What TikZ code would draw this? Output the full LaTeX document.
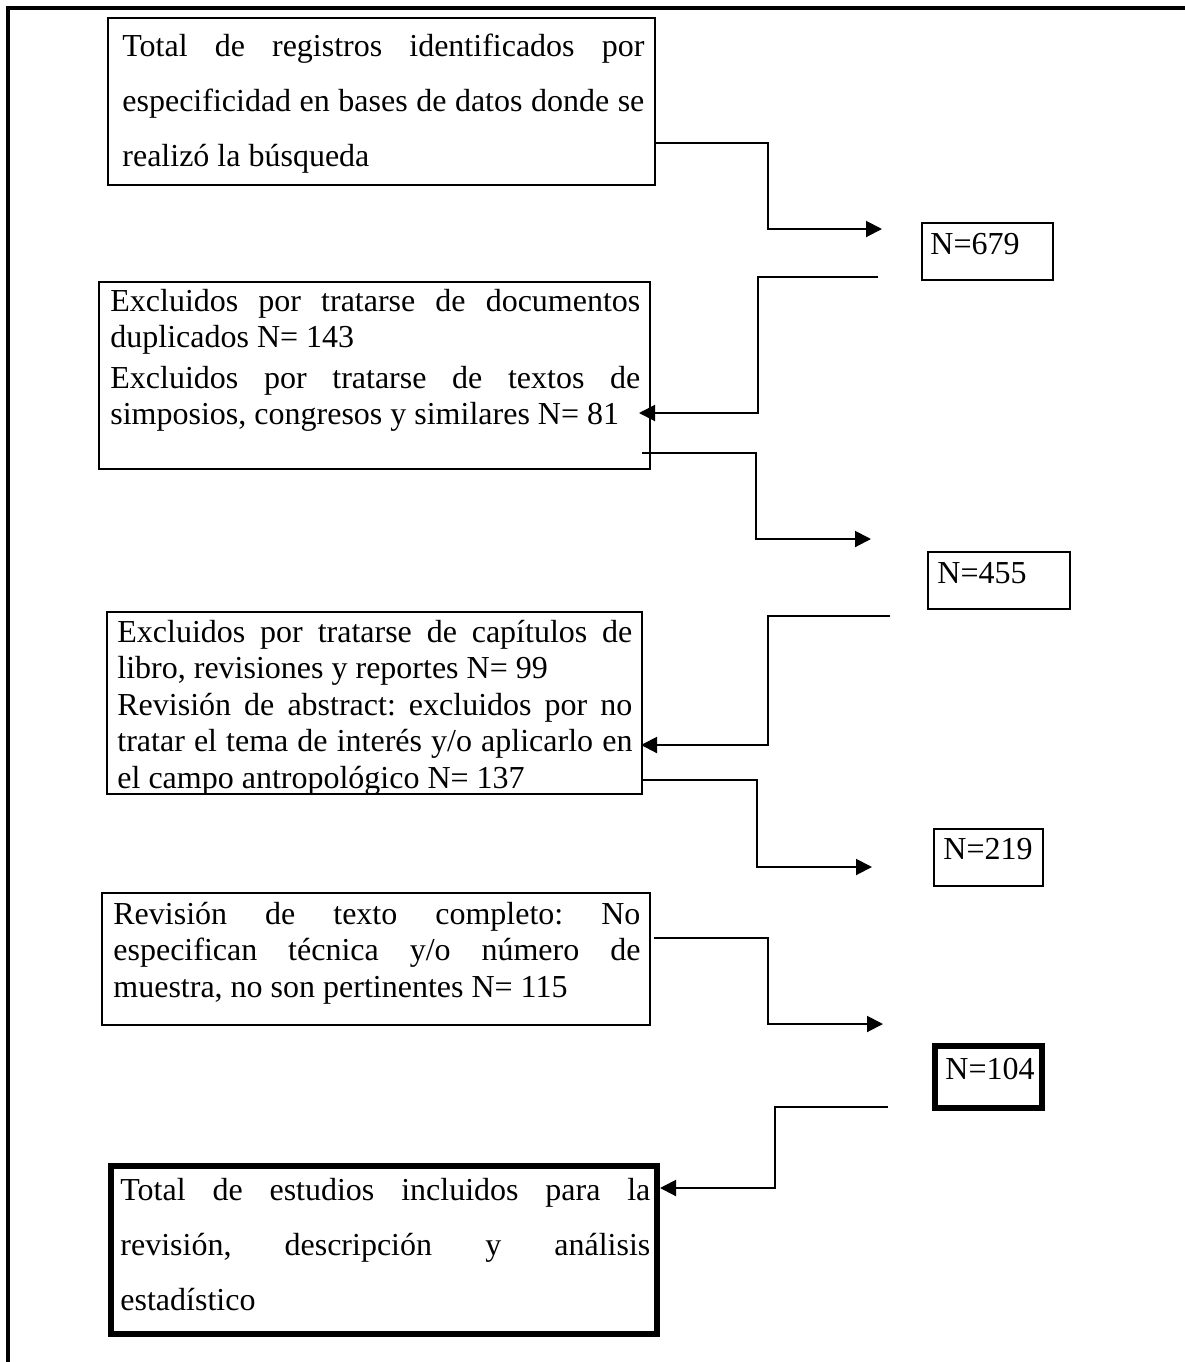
\documentclass[tikz,border=0pt]{standalone}
\usepackage{fontspec}
\setmainfont{Liberation Serif}
\usetikzlibrary{arrows.meta,fit}
\frenchspacing
\newcommand{\jline}[2]{{\frenchspacing\spaceskip=0pt\xspaceskip=0pt\makebox[#1][s]{#2}}}
\newcommand{\lline}[2]{{\frenchspacing\spaceskip=0pt\xspaceskip=0pt\makebox[#1][l]{#2}}}
\begin{document}
\begin{tikzpicture}[x=0.5pt,y=-0.5pt,
  box/.style={draw, line width=1pt, inner sep=0pt},
  thickbox/.style={draw, line width=3pt, inner sep=0pt},
  txt/.style={inner sep=0pt, anchor=base west, align=left, font=\fontsize{16pt}{18.25pt}\selectfont},
  widetxt/.style={txt, font=\fontsize{16pt}{27.5pt}\selectfont},
  ntxt/.style={inner sep=0pt, anchor=base west, font=\fontsize{16pt}{18pt}\selectfont},
  arr/.style={line width=1pt, -{Triangle[length=8pt,width=8pt]}}]
\useasboundingbox (0,0) rectangle (1185,1362);
\fill[white] (0,0) rectangle (1185,1362);
% outer frame
\draw[line width=2pt] (8,1362) -- (8,8) -- (1185,8);

% left boxes
\coordinate (b1nw) at (108,18);   \coordinate (b1se) at (655,185);
\node[box, fit=(b1nw)(b1se)] (b1) {};
\coordinate (b2nw) at (99,282);   \coordinate (b2se) at (650,469);
\node[box, fit=(b2nw)(b2se)] (b2) {};
\coordinate (b3nw) at (107,612);  \coordinate (b3se) at (642,794);
\node[box, fit=(b3nw)(b3se)] (b3) {};
\coordinate (b4nw) at (102,893);  \coordinate (b4se) at (650,1025);
\node[box, fit=(b4nw)(b4se)] (b4) {};
\coordinate (b5nw) at (111,1166); \coordinate (b5se) at (657,1334);
\node[thickbox, fit=(b5nw)(b5se)] (b5) {};

% right N boxes
\coordinate (n1nw) at (922,223);  \coordinate (n1se) at (1053,280);
\node[box, fit=(n1nw)(n1se)] (n1) {};
\coordinate (n2nw) at (928,552);  \coordinate (n2se) at (1070,609);
\node[box, fit=(n2nw)(n2se)] (n2) {};
\coordinate (n3nw) at (934,829);  \coordinate (n3se) at (1043,886);
\node[box, fit=(n3nw)(n3se)] (n3) {};
\coordinate (n4nw) at (935,1046); \coordinate (n4se) at (1042,1108);
\node[thickbox, fit=(n4nw)(n4se)] (n4) {};

% texts
\node[widetxt, text width=261pt] (b1t) at (122,56)
  {\jline{261pt}{Total de registros identificados por}\\
   \jline{261pt}{especificidad en bases de datos donde se}\\
   \lline{261pt}{realizó la búsqueda}};
\node[txt, text width=265pt] (b2t) at (110,311)
  {\jline{265pt}{Excluidos por tratarse de documentos}\\
   \lline{265pt}{duplicados N= 143}\\[2pt]
   \jline{265pt}{Excluidos por tratarse de textos de}\\
   \lline{265pt}{simposios, congresos y similares N= 81}};
\node[txt, text width=257.5pt] (b3t) at (117,642)
  {\jline{257.5pt}{Excluidos por tratarse de capítulos de}\\
   \lline{257.5pt}{libro, revisiones y reportes N= 99}\\
   \jline{257.5pt}{Revisión de abstract: excluidos por no}\\
   \jline{257.5pt}{tratar el tema de interés y/o aplicarlo en}\\
   \lline{257.5pt}{el campo antropológico N= 137}};
\node[txt, text width=263.5pt] (b4t) at (113,924)
  {\jline{263.5pt}{Revisión de texto completo: No}\\
   \jline{263.5pt}{especifican técnica y/o número de}\\
   \lline{263.5pt}{muestra, no son pertinentes N= 115}};
\node[widetxt, text width=265pt] (b5t) at (120,1200)
  {\jline{265pt}{Total de estudios incluidos para la}\\
   \jline{265pt}{revisión, descripción y análisis}\\
   \lline{265pt}{estadístico}};

\node[ntxt] (n1t) at (930,254) {N=679};
\node[ntxt] (n2t) at (937,583) {N=455};
\node[ntxt] (n3t) at (943,859) {N=219};
\node[ntxt] (n4t) at (945,1079) {N=104};

% connectors
\coordinate (c1m) at (768,143);  \coordinate (c1t) at (882,229);
\draw[arr] (b1.east |- c1m) -- (c1m) |- (c1t);

\coordinate (c2s) at (878,277);  \coordinate (c2m) at (758,277);  \coordinate (c2t) at (639,413);
\draw[arr] (c2s) -- (c2m) |- (c2t);

\coordinate (c3s) at (642,453);  \coordinate (c3m) at (756,453);  \coordinate (c3t) at (871,539);
\draw[arr] (c3s) -- (c3m) |- (c3t);

\coordinate (c4s) at (890,616);  \coordinate (c4m) at (768,616);  \coordinate (c4t) at (641,745);
\draw[arr] (c4s) -- (c4m) |- (c4t);

\coordinate (c5m) at (757,780);  \coordinate (c5t) at (872,867);
\draw[arr] (b3.east |- c5m) -- (c5m) |- (c5t);

\coordinate (c6s) at (654,938);  \coordinate (c6m) at (768,938);  \coordinate (c6t) at (883,1024);
\draw[arr] (c6s) -- (c6m) |- (c6t);

\coordinate (c7s) at (888,1107); \coordinate (c7m) at (775,1107); \coordinate (c7t) at (660,1188);
\draw[arr] (c7s) -- (c7m) |- (c7t);
\end{tikzpicture}
\end{document}
